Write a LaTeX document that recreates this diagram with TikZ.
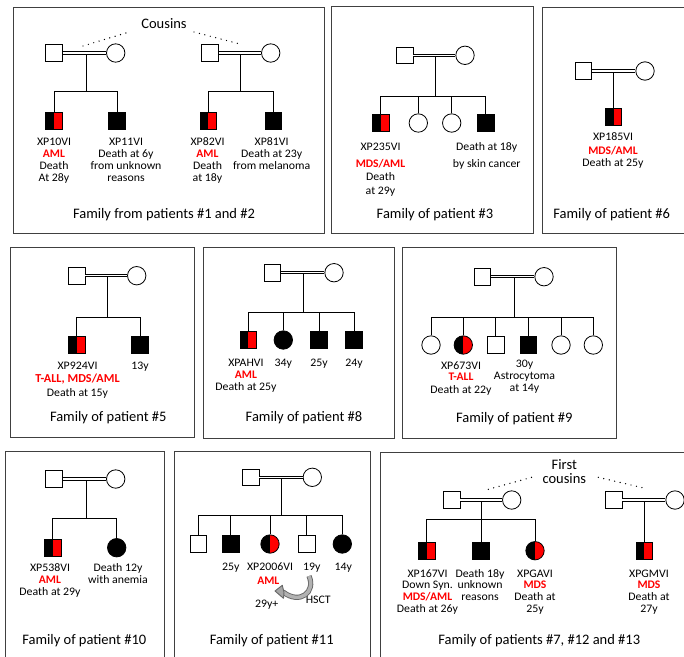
\documentclass[tikz,border=0pt]{standalone}
\usepackage{fontspec}
\setmainfont{Carlito}
\newfontfamily\lblfont[FakeStretch=1.03]{Carlito}
\newfontfamily\dxfont{Carlito}
\newcommand\dxl[1]{{\dxfont\bfseries\fontsize{11.6}{11.8}\selectfont\color{red}#1}}
\begin{document}
\begin{tikzpicture}[x=1pt,y=-1pt,
  panel/.style={draw=black!75, line width=1pt},
  male/.style={draw, rectangle, minimum size=16.7pt, inner sep=0pt, line width=0.8pt, fill=white},
  female/.style={draw, circle, minimum size=18.4pt, inner sep=0pt, line width=0.8pt, fill=white},
  affected/.style={fill=black},
  halfred/.style={path picture={
      \fill[black] (path picture bounding box.south west) rectangle (path picture bounding box.north);
      \fill[red] (path picture bounding box.south) rectangle (path picture bounding box.north east);}},
  tie/.style={draw, line width=0.9pt},
  union/.style={double=white, double distance=1.5pt, line width=0.8pt},
  kin/.style={line width=1.4pt, dash pattern=on 0pt off 5.6pt, line cap=round},
  lbl/.style={anchor=north, align=center, inner sep=0pt, font=\lblfont\fontsize{11.5}{11.8}\selectfont},
  one/.style={anchor=base, inner sep=0pt, font=\lblfont\fontsize{11.5}{11.8}\selectfont},
  ttl/.style={anchor=base, inner sep=0pt, font=\fontsize{14.5}{17}\selectfont},
]
\useasboundingbox (0,0) rectangle (684,656);
\fill[white] (0,0) rectangle (684,656);
\clip (0,0) rectangle (684,656);

% ---------- panels ----------
\draw[panel] (13,7) rectangle (324,233);
\draw[panel] (331,6) rectangle (533,233);
\draw[panel] (542,7) rectangle (700,233);
\draw[panel] (10,247) rectangle (194,437);
\draw[panel] (203,247) rectangle (394,438);
\draw[panel] (402,247) rectangle (616,438);
\draw[panel] (5,451) rectangle (164,670);
\draw[panel] (174,451) rectangle (370,670);
\draw[panel] (380,452) rectangle (700,670);

% ---------- families of patients #1 and #2 ----------
\node[male] (f1a) at (54,53) {};
\node[female] (m1a) at (115.7,53) {};
\coordinate (j1a) at (86,53);
\coordinate (s1a) at (86,91);
\node[male,halfred] (c1a1) at (54,121) {};
\node[male,affected] (c1a2) at (117,121) {};
\draw[tie] (j1a) -- (s1a);
\draw[union] (f1a) -- (m1a);
\draw[tie] (c1a1.north) -- (c1a1.north |- s1a) -- (c1a2.north |- s1a) -- (c1a2.north);

\node[male] (f1b) at (210,53) {};
\node[female] (m1b) at (270.7,53) {};
\coordinate (j1b) at (240.7,53);
\coordinate (s1b) at (240.7,91);
\node[male,halfred] (c1b1) at (208.3,121) {};
\node[male,affected] (c1b2) at (273.3,121) {};
\draw[tie] (j1b) -- (s1b);
\draw[union] (f1b) -- (m1b);
\draw[tie] (c1b1.north) -- (c1b1.north |- s1b) -- (c1b2.north |- s1b) -- (c1b2.north);

\node[ttl] (cous) at (164,28.7) {Cousins};
\coordinate (k1a) at (83,46);
\coordinate (k1b) at (129,32);
\coordinate (k1c) at (194,32);
\coordinate (k1d) at (240,44);
\draw[kin] (k1a) -- (k1b);
\draw[kin] (k1c) -- (k1d);

\node[lbl] (t1a1) at (54,137.4) {\strut XP10VI\\\dxl{AML}\\Death\\At 28y};
\node[lbl] (t1a2) at (126,137.4) {\strut XP11VI\\Death at 6y\\from unknown\\reasons};
\node[lbl] (t1b1) at (207.5,137.4) {\strut XP82VI\\\dxl{AML}\\Death\\at 18y};
\node[lbl] (t1b2) at (271.7,137.4) {\strut XP81VI\\Death at 23y\\from melanoma};
\node[ttl] (ttl1) at (164,218) {Family from patients \#1 and \#2};

% ---------- family of patient #3 ----------
\node[male] (f2) at (404.7,55.3) {};
\node[female] (m2) at (465,55.3) {};
\coordinate (j2) at (435.7,55.3);
\coordinate (s2) at (435.7,96.7);
\node[male,halfred] (c21) at (380.7,123) {};
\node[female] (c22) at (418.3,123) {};
\node[female] (c23) at (451.7,123) {};
\node[male,affected] (c24) at (485.7,123) {};
\draw[tie] (j2) -- (s2);
\draw[union] (f2) -- (m2);
\draw[tie] (c21.north) -- (c21.north |- s2) -- (c24.north |- s2) -- (c24.north);
\draw[tie] (c22.north) -- (c22.north |- s2);
\draw[tie] (c23.north) -- (c23.north |- s2);
\node[lbl] (t21) at (380.5,142) {\strut XP235VI\\[4.9pt]\dxl{MDS/AML}\\[1.5pt]Death\\[2.2pt]at 29y};
\node[lbl] (t24) at (486.7,142) {\strut Death at 18y\\[4.9pt]by skin cancer};
\node[ttl] (ttl2) at (435,218) {Family of patient \#3};

% ---------- family of patient #6 ----------
\node[male] (f3) at (583.3,71) {};
\node[female] (m3) at (645,71) {};
\coordinate (j3) at (613.5,71);
\node[male,halfred] (c31) at (613.5,116.7) {};
\draw[tie] (j3) -- (c31.north);
\draw[union] (f3) -- (m3);
\node[lbl] (t31) at (613,132) {\strut XP185VI\\[2.5pt]\dxl{MDS/AML}\\Death at 25y};
\node[ttl] (ttl3) at (611.7,218) {Family of patient \#6};

% ---------- family of patient #5 ----------
\node[male] (f4) at (76.7,275.7) {};
\node[female] (m4) at (136.7,275.7) {};
\coordinate (j4) at (107.3,275.7);
\coordinate (s4) at (107.3,317.3);
\node[male,halfred] (c41) at (76.7,345) {};
\node[male,affected] (c42) at (140,345) {};
\draw[tie] (j4) -- (s4);
\draw[union] (f4) -- (m4);
\draw[tie] (c41.north) -- (c41.north |- s4) -- (c42.north |- s4) -- (c42.north);
\node[lbl] (t41) at (77.5,361.3) {\strut XP924VI\\[-0.5pt]{\dxfont\bfseries\fontsize{12.2}{11.8}\selectfont\color{red}T-ALL, MDS/AML}\\[2.6pt]Death at 15y};
\node[one] (t42) at (140,369.6) {13y};
\node[ttl] (ttl4) at (108.3,421.4) {Family of patient \#5};

% ---------- family of patient #8 ----------
\node[male] (f5) at (272.3,272.7) {};
\node[female] (m5) at (334,272.7) {};
\coordinate (j5) at (303.3,272.7);
\coordinate (s5) at (303.3,312.7);
\node[male,halfred] (c51) at (248.3,340) {};
\node[female,affected] (c52) at (283.3,340) {};
\node[male,affected] (c53) at (319,340) {};
\node[male,affected] (c54) at (354,340) {};
\draw[tie] (j5) -- (s5);
\draw[union] (f5) -- (m5);
\draw[tie] (c51.north) -- (c51.north |- s5) -- (c54.north |- s5) -- (c54.north);
\draw[tie] (c52.north) -- (c52.north |- s5);
\draw[tie] (c53.north) -- (c53.north |- s5);
\node[lbl] (t51) at (246,358) {\strut XPAHVI\\[0.5pt]\dxl{AML}\\Death at 25y};
\node[one] (t52) at (283.3,366.3) {34y};
\node[one] (t53) at (319,366.3) {25y};
\node[one] (t54) at (354,366.3) {24y};
\node[ttl] (ttl5) at (304,421.4) {Family of patient \#8};

% ---------- family of patient #9 ----------
\node[male] (f6) at (482.3,276.7) {};
\node[female] (m6) at (544,276.7) {};
\coordinate (j6) at (514,276.7);
\coordinate (s6) at (514,317.3);
\node[female] (c61) at (431,345) {};
\node[female,halfred] (c62) at (463.3,345) {};
\node[male] (c63) at (495.7,345) {};
\node[male,affected] (c64) at (528.3,345) {};
\node[female] (c65) at (561,345) {};
\node[female] (c66) at (593.3,345) {};
\draw[tie] (j6) -- (s6);
\draw[union] (f6) -- (m6);
\draw[tie] (c61.north) -- (c61.north |- s6) -- (c66.north |- s6) -- (c66.north);
\foreach \k in {c62,c63,c64,c65}
  \draw[tie] (\k.north) -- (\k.north |- s6);
\node[lbl] (t62) at (461,361.3) {\strut XP673VI\\[-0.8pt]\dxl{T-ALL}\\[0.9pt]Death at 22y};
\node[lbl] (t64) at (524.5,359.3) {\strut 30y\\Astrocytoma\\at 14y};
\node[ttl] (ttl6) at (514.3,422.4) {Family of patient \#9};

% ---------- family of patient #10 ----------
\node[male] (f7) at (54,479) {};
\node[female] (m7) at (115.7,479) {};
\coordinate (j7) at (86,479);
\coordinate (s7) at (86,518.3);
\node[male,halfred] (c71) at (52.7,547.7) {};
\node[female,affected] (c72) at (116.7,547.7) {};
\draw[tie] (j7) -- (s7);
\draw[union] (f7) -- (m7);
\draw[tie] (c71.north) -- (c71.north |- s7) -- (c72.north |- s7) -- (c72.north);
\node[lbl] (t71) at (50,563) {\strut XP538VI\\\dxl{AML}\\Death at 29y};
\node[lbl] (t72) at (118,563) {\strut Death 12y\\with anemia};
\node[ttl] (ttl7) at (84.3,644) {Family of patient \#10};

% ---------- family of patient #11 ----------
\node[male] (f8) at (250.7,477.3) {};
\node[female] (m8) at (312.3,477.3) {};
\coordinate (j8) at (281.7,477.3);
\coordinate (s8) at (281.7,515.7);
\node[male] (c81) at (198.3,544) {};
\node[male,affected] (c82) at (230.7,544) {};
\node[female,halfred] (c83) at (270,544) {};
\node[male] (c84) at (306.7,544) {};
\node[female,affected] (c85) at (342.3,544) {};
\draw[tie] (j8) -- (s8);
\draw[union] (f8) -- (m8);
\draw[tie] (c81.north) -- (c81.north |- s8) -- (c85.north |- s8) -- (c85.north);
\foreach \k in {c82,c83,c84}
  \draw[tie] (\k.north) -- (\k.north |- s8);
\node[one] (t82) at (230.7,570.3) {25y};
\node[one] (t83) at (270,570.3) {XP2006VI};
\node[one] (t84) at (311.7,570.3) {19y};
\node[one] (t85) at (343.3,570.3) {14y};
\node[one] (t83b) at (268.3,584.6) {\dxl{AML}};
\node[one] (t83c) at (266.7,607) {29y+};
\node[one] (hsct) at (318.3,603.5) {HSCT};
% transplant arrow from the donor sibling back to the patient
\coordinate (ha) at (309,576);
\coordinate (hb) at (283,592);
\draw[line width=5.2pt, draw=black!60, line cap=butt] (ha) .. controls (316,592) and (300,605) .. (hb);
\draw[line width=3.4pt, draw=black!30, line cap=butt] (ha) .. controls (316,592) and (300,605) .. (hb);
\draw[fill=black!35, draw=black!60, line width=0.9pt, line join=round]
  (284,592.3) -- (282.3,585.3) -- (275,591) -- (283.5,598.3) -- cycle;
\node[ttl] (ttl8) at (271.7,644.7) {Family of patient \#11};

% ---------- families of patients #7, #12 and #13 ----------
\node[male] (f9a) at (451.7,500) {};
\node[female] (m9a) at (511.7,500) {};
\coordinate (j9a) at (481,500);
\coordinate (s9a) at (481,519);
\node[male,halfred] (c91) at (426.7,550.7) {};
\node[male,affected] (c92) at (481,550.7) {};
\node[female,halfred] (c93) at (535,550.7) {};
\draw[tie] (j9a) -- (s9a);
\draw[union] (f9a) -- (m9a);
\draw[tie] (c91.north) -- (c91.north |- s9a) -- (c93.north |- s9a) -- (c93.north);
\draw[tie] (c92.north) -- (c92.north |- s9a);

\node[male] (f9b) at (613.7,500) {};
\node[female] (m9b) at (675,500) {};
\coordinate (j9b) at (644.3,500);
\node[male,halfred] (c94) at (644.3,550.7) {};
\draw[tie] (j9b) -- (c94.north);
\draw[union] (f9b) -- (m9b);

\node[anchor=north, align=center, inner sep=0pt, font=\fontsize{14.5}{11}\selectfont] (fcous) at (564.3,459.5) {\strut First\\cousins};
\coordinate (k9a) at (488.3,489.3);
\coordinate (k9b) at (531.7,477.3);
\coordinate (k9c) at (598.3,477.3);
\coordinate (k9d) at (645,488.3);
\draw[kin] (k9a) -- (k9b);
\draw[kin] (k9c) -- (k9d);

\node[lbl] (t91) at (427.5,568.7) {\strut XP167VI\\Down Syn.\\\dxl{MDS/AML}\\Death at 26y};
\node[lbl] (t92) at (480,568.7) {\strut Death 18y\\unknown\\reasons};
\node[lbl] (t93) at (535,568.7) {\strut XPGAVI\\\dxl{MDS}\\Death at\\25y};
\node[lbl] (t94) at (649,568.7) {\strut XPGMVI\\\dxl{MDS}\\Death at\\27y};
\node[ttl] (ttl9) at (539.3,644) {Family of patients \#7, \#12 and \#13};
\end{tikzpicture}
\end{document}
